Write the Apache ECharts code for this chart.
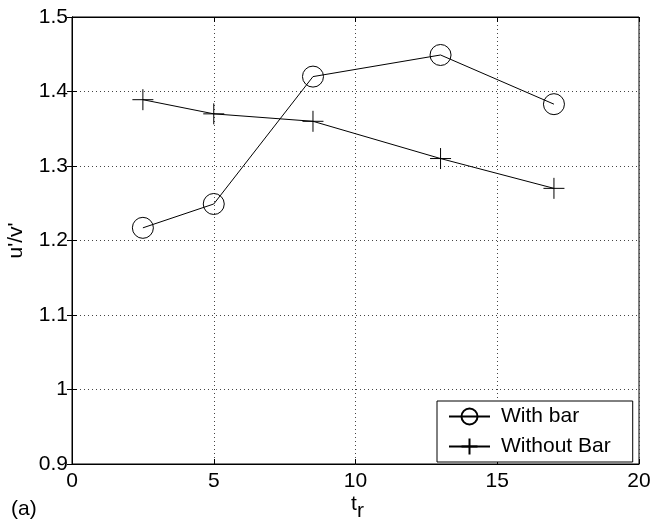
<!DOCTYPE html>
<html><head><meta charset="utf-8">
<script src="https://cdn.jsdelivr.net/npm/echarts@6/dist/echarts.min.js"></script>
<style>html,body{margin:0;padding:0;background:#fff}#c{width:652px;height:524px}</style>
</head><body><div id="c"></div>
<script>
const tr = [2.5, 5, 8.5, 13, 17];
const withBar = [1.217, 1.249, 1.420, 1.449, 1.383];
const withoutBar = [1.389, 1.370, 1.360, 1.310, 1.270];
const seriesNames = ['With bar', 'Without Bar'];
const xTicks = [0, 5, 10, 15, 20];
const yTicks = [0.9, 1, 1.1, 1.2, 1.3, 1.4, 1.5];

const FONT = 'Liberation Sans';
const FS = 21;
const chart = echarts.init(document.getElementById('c'), null, {renderer: 'canvas'});
const plusPath = 'path://M0,-10L0,10M-10,0L10,0';
const gridLine = {show: true, lineStyle: {color: '#444', type: [1, 3], width: 1}};
const axisLineS = {show: true, lineStyle: {color: '#000', width: 1}};
const tickS = {show: true, inside: true, length: 5, lineStyle: {color: '#000'}};
const labelS = {color: '#000', fontFamily: FONT, fontSize: FS};

chart.setOption({
  animation: false,
  backgroundColor: '#fff',
  grid: {left: 72, right: 13, top: 17, bottom: 60, containLabel: false, outerBoundsMode: 'none',
         show: true, borderColor: '#000', borderWidth: 1, backgroundColor: 'transparent'},
  legend: {
    data: seriesNames,
    orient: 'vertical',
    left: 437, top: 401,
    padding: [5, 22, 5, 11],
    itemGap: 9,
    itemWidth: 41, itemHeight: 20,
    backgroundColor: '#fff',
    borderColor: '#000', borderWidth: 1,
    textStyle: {color: '#000', fontFamily: FONT, fontSize: FS, padding: [0, 0, 0, 6]}
  },
  xAxis: [{
    type: 'value', min: 0, max: 20, interval: 5,
    axisLine: axisLineS, axisTick: tickS, splitLine: gridLine,
    axisLabel: Object.assign({margin: 7, formatter: v => xTicks.includes(v) ? String(v) : ''}, labelS)
  }, {
    type: 'value', min: 0, max: 20, interval: 5, position: 'top',
    axisLine: axisLineS, axisTick: tickS, splitLine: {show: false}, axisLabel: {show: false}
  }],
  yAxis: [{
    type: 'value', min: 0.9, max: 1.5, interval: 0.1,
    axisLine: axisLineS, axisTick: tickS, splitLine: gridLine,
    axisLabel: Object.assign({margin: 4, formatter: v => {
      const r = Math.round(v * 10) / 10;
      return yTicks.includes(r) ? String(r) : '';
    }}, labelS),
    name: "u'/v'", nameLocation: 'middle', nameGap: 45,
    nameTextStyle: {fontFamily: FONT, fontSize: FS, color: '#000'}
  }, {
    type: 'value', min: 0.9, max: 1.5, interval: 0.1, position: 'right',
    axisLine: axisLineS, axisTick: tickS, splitLine: {show: false}, axisLabel: {show: false}
  }],
  graphic: [
    {type: 'text', left: 351, top: 494, style: {text: 't', font: '21px "Liberation Sans"', fill: '#000'}},
    {type: 'text', left: 357, top: 501, style: {text: 'r', font: '21px "Liberation Sans"', fill: '#000'}},
    {type: 'text', left: 11, top: 499, style: {text: '(a)', font: '21px "Liberation Sans"', fill: '#000'}}
  ],
  series: [{
    name: seriesNames[0], type: 'line',
    data: tr.map((x, i) => [x, withBar[i]]),
    symbol: 'circle', symbolSize: 21,
    lineStyle: {color: '#000', width: 1},
    itemStyle: {color: 'rgba(0,0,0,0)', borderColor: '#000', borderWidth: 1},
    z: 3
  }, {
    name: seriesNames[1], type: 'line',
    data: tr.map((x, i) => [x, withoutBar[i]]),
    symbol: plusPath, symbolSize: 21,
    lineStyle: {color: '#000', width: 1},
    itemStyle: {color: 'rgba(0,0,0,0)', borderColor: '#000', borderWidth: 1},
    z: 3
  }]
});
</script></body></html>
